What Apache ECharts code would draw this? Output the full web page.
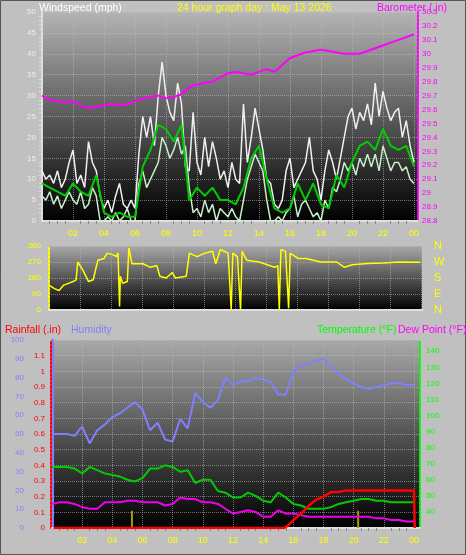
<!DOCTYPE html>
<html><head><meta charset="utf-8">
<script src="https://cdn.jsdelivr.net/npm/echarts@6/dist/echarts.min.js"></script>
<style>html,body{margin:0;padding:0;background:#c0c0c0}#c{width:466px;height:555px}</style>
</head><body><div id="c"></div>
<script>
const gust=[12,10,11,9, 12,8,10,14, 17,9,11,8, 19,14,12,6, 3,5,2,6, 9,4,3,5, 3,16,25,20, 25,18,30,38, 30,26,24,33, 28,13,12,26, 14,11,20,13, 19,15,10,12, 8,14,10,9, 28,14,20,27, 22,17,10,9, 4,3,5,12, 15,8,10,12, 14,20,12,10, 5,12,17,14, 10,15,20,25, 27,22,26,24, 28,23,33,25, 31,27,24,26, 27,20,24,18, 14];
const windLow=[6,5,7,4, 6,3,5,7, 5,4,7,3, 4,8,6,0, 0,1,0,2, 0,1,3,0, 0,9,12,8, 10,12,14,20, 18,15,17,20, 16,18,8,2, 3,1,5,2, 4,0,3,2, 1,3,1,0, 5,10,13,16, 14,12,5,0, 0,1,0,2, 3,6,1,4, 5,3,1,2, 0,5,3,8, 7,10,14,12, 14,11,15,13, 16,13,16,12, 18,15,12,14, 14,12,13,10, 9];
const windAvg=[9,8,7,6,9,7,6,11,2,1,2,1,1,13,17,23,22,19,23,5,8,6,8,5,5,4,8,15,18,10,3,2,3,9,5,9,4,3,11,8,14,18,19,17,22,18,17,18,13];
const baro=[29.70,29.67,29.66,29.65,29.66,29.63,29.61,29.62,29.63,29.64,29.63,29.64,29.66,29.68,29.69,29.70,29.68,29.69,29.71,29.76,29.78,29.79,29.80,29.83,29.86,29.87,29.86,29.85,29.87,29.89,29.87,29.92,29.97,29.99,30.01,30.02,30.03,30.02,30.01,30.00,30.00,30.00,30.02,30.04,30.06,30.08,30.10,30.12,30.14];
const dirHours=[0.45,0.8,1.1,1.4,1.7,2.0,2.2,2.3,2.6,3.0,3.3,3.6,4.0,4.2,4.6,4.8,4.9,5.0,5.05,5.2,5.5,5.6,5.8,6.5,7,7.4,7.6,8.0,8.4,8.6,9.3,9.5,10,10.5,11,11.2,11.5,12,12.2,12.3,12.6,12.8,12.9,13.2,14,15,15.2,15.3,15.4,15.7,15.9,16.0,16.5,17,18,19,19.5,20,21,22,23,24.4];
const dirDeg=[140,120,110,140,150,160,170,270,230,160,170,280,290,320,310,300,320,20,190,150,160,350,260,260,240,250,190,180,210,180,190,320,300,320,330,260,340,320,0,320,300,0,330,280,270,240,250,0,340,330,10,320,290,290,270,270,240,255,262,265,270,268];
const humidity=[50,50,50,49,54,45,52,55,59,61,64,67,63,52,56,47,46,58,53,72,67,64,68,80,76,78,78,80,79,78,71,71,83,87,87,89,90,86,82,79,77,75,74,75,76,77,77,76,76];
const temperature=[68,68,68,67,64,68,66,64,63,62,60,59,61,67,67,69,68,65,66,58,60,60,53,52,49,49,52,50,47,46,52,49,45,44,42,42,42,43,45,46,47,48,48,47,47,46,46,46,46];
const dewPoint=[45,46,46,45,43,42,42,46,46,46,47,47,46,46,46,44,45,49,48,48,46,46,45,42,39,40,41,40,37,37,41,39,39,38,37,37,37,37,37,37,37,37,37,36,36,35,35,34,34];
const rainHours=[0.1,15.4,15.7,16,16.5,17,17.5,18,18.5,19,19.5,24,24.05];
const rainTotal=[0,0,0.02,0.05,0.09,0.14,0.18,0.2,0.23,0.23,0.24,0.24,0];
const rateHours=[5.3,20.3];
const rateVals=[0.11,0.11];
const timeTicks=['02','04','06','08','10','12','14','16','18','20','22','00'];

const P=a=>a.map((v,i)=>[i*24/(a.length-1),v]);
const Z=(h,v)=>h.map((x,i)=>[x,v[i]]);
const ch=echarts.init(document.getElementById('c'));
const grad=(c)=>new echarts.graphic.LinearGradient(0,0,0,1,[{offset:0,color:c},{offset:1,color:'#000'}]);
const F='Liberation Sans';
const xl=v=>(v>0&&v%2===0)?timeTicks[v/2-1]:'';
const xAx=(g,min,max,show)=>({type:'value',gridIndex:g,min:min,max:max,interval:2,
 axisLine:{show:true,lineStyle:{color:'#e0e0e0',width:2}},axisTick:{show:false},
 minorTick:{show:show,splitNumber:4,lineStyle:{color:'#888'}},
 splitLine:{show:true,lineStyle:{color:'#bbb',type:'dotted',opacity:0.6}},
 axisLabel:{show:show,color:'#ffff00',fontSize:9,fontFamily:F,formatter:xl,showMinLabel:false,showMaxLabel:false}});
const sl={show:true,lineStyle:{color:'#ccc',type:'dotted',opacity:0.5}};
const tt=(text,left,top,color)=>({text,left,top,textStyle:{color,fontSize:10.5,fontWeight:'normal',fontFamily:F}});
ch.setOption({
 backgroundColor:'#c0c0c0',animation:false,
 graphic:[{type:'rect',shape:{x:0.5,y:0.5,width:465,height:554},style:{fill:'none',stroke:'#555'}}],
 title:[
  tt('Windspeed (mph)',34,-2,'#fff'),
  tt('24 hour graph day : May 13 2026',172,-2,'#ffff00'),
  tt('Barometer (.in)',372,-2,'#ff00ff'),
  tt('Rainfall (.in)',0,320,'#ff0000'),
  tt('Humidity',66,320,'#8080ff'),
  tt('Temperature (°F)',312,320,'#00ff00'),
  tt('Dew Point (°F)',393,320,'#ff00ff')
 ],
 grid:[
  {left:42,right:48,top:12,height:209,show:true,borderWidth:0,backgroundColor:grad('#b4b4b4')},
  {left:49,right:44,top:246,height:64,show:true,borderWidth:0,backgroundColor:grad('#a8a8a8')},
  {left:52,right:46,top:340,height:188,show:true,borderWidth:0,backgroundColor:grad('#a8a8a8')}
 ],
 xAxis:[xAx(0,0,24.26,true),xAx(1,0.45,24.5,false),xAx(2,0,24.4,true)],
 yAxis:[
  {type:'value',gridIndex:0,min:0,max:50,interval:5,axisLine:{show:true,lineStyle:{color:'#ddd',width:2}},axisTick:{show:false},minorTick:{show:true,splitNumber:5,lineStyle:{color:'#ddd'}},splitLine:sl,axisLabel:{color:'#eee',fontSize:8,fontFamily:F,margin:6}},
  {type:'value',gridIndex:0,position:'right',min:28.8,max:30.3,interval:0.1,axisLine:{show:true,lineStyle:{color:'#ff00ff',width:2,type:'dotted'}},axisTick:{show:false},splitLine:{show:false},axisLabel:{color:'#ff00ff',fontSize:8,fontFamily:F,margin:4,formatter:v=>+v.toFixed(1)+''}},
  {type:'value',gridIndex:1,min:0,max:360,interval:90,axisLine:{show:true,lineStyle:{color:'#ffff00',width:2,type:'dotted'}},axisTick:{show:false},splitLine:sl,axisLabel:{color:'#ffff00',fontSize:8,fontFamily:F,margin:8}},
  {type:'value',gridIndex:1,position:'right',min:0,max:360,interval:90,axisLine:{show:false},axisTick:{show:false},splitLine:{show:false},axisLabel:{color:'#ffff00',fontSize:11,fontFamily:F,margin:12,formatter:v=>({0:'N',90:'E',180:'S',270:'W',360:'N'})[v]}},
  {type:'value',gridIndex:2,position:'left',min:0,max:100,interval:10,offset:22,axisLine:{show:true,lineStyle:{color:'#8080ff',width:3}},axisTick:{show:false},splitLine:{show:false},axisLabel:{color:'#8080ff',fontSize:8,fontFamily:F,margin:6}},
  {type:'value',gridIndex:2,position:'left',min:0,max:1.2,interval:0.1,offset:1,axisLine:{show:true,lineStyle:{color:'#ff0000',width:2,type:'dotted'}},axisTick:{show:false},splitLine:sl,axisLabel:{color:'#ff0000',fontSize:8,fontFamily:F,margin:6,showMaxLabel:false,formatter:v=>+v.toFixed(1)+''}},
  {type:'value',gridIndex:2,position:'right',min:30,max:147,interval:10,axisLine:{show:true,lineStyle:{color:'#00ff00',width:2,type:'dotted'}},axisTick:{show:false},splitLine:{show:false},axisLabel:{color:'#00ff00',fontSize:8,fontFamily:F,margin:6,showMinLabel:false,showMaxLabel:false}}
 ],
 series:[
  {type:'line',xAxisIndex:0,yAxisIndex:0,data:P(gust),symbol:'none',lineStyle:{color:'#f0f0f0',width:1.5}},
  {type:'line',xAxisIndex:0,yAxisIndex:0,data:P(windLow),symbol:'none',lineStyle:{color:'#c8f0c8',width:1.5}},
  {type:'line',xAxisIndex:0,yAxisIndex:0,data:P(windAvg),symbol:'none',lineStyle:{color:'#00cc00',width:2}},
  {type:'line',xAxisIndex:0,yAxisIndex:1,data:P(baro),symbol:'none',lineStyle:{color:'#ff00ff',width:2}},
  {type:'line',xAxisIndex:1,yAxisIndex:2,data:Z(dirHours,dirDeg),symbol:'none',lineStyle:{color:'#ffff00',width:1.5}},
  {type:'bar',xAxisIndex:2,yAxisIndex:5,data:Z(rateHours,rateVals),barWidth:2,itemStyle:{color:'#a0a000'}},
  {type:'line',xAxisIndex:2,yAxisIndex:4,data:P(humidity),symbol:'none',lineStyle:{color:'#8080ff',width:2}},
  {type:'line',xAxisIndex:2,yAxisIndex:6,data:P(temperature),symbol:'none',lineStyle:{color:'#00cc00',width:2}},
  {type:'line',xAxisIndex:2,yAxisIndex:6,data:P(dewPoint),symbol:'none',lineStyle:{color:'#ee00ee',width:2}},
  {type:'line',xAxisIndex:2,yAxisIndex:5,data:Z(rainHours,rainTotal),symbol:'none',lineStyle:{color:'#ff0000',width:2.5}}
 ]
});
</script></body></html>
